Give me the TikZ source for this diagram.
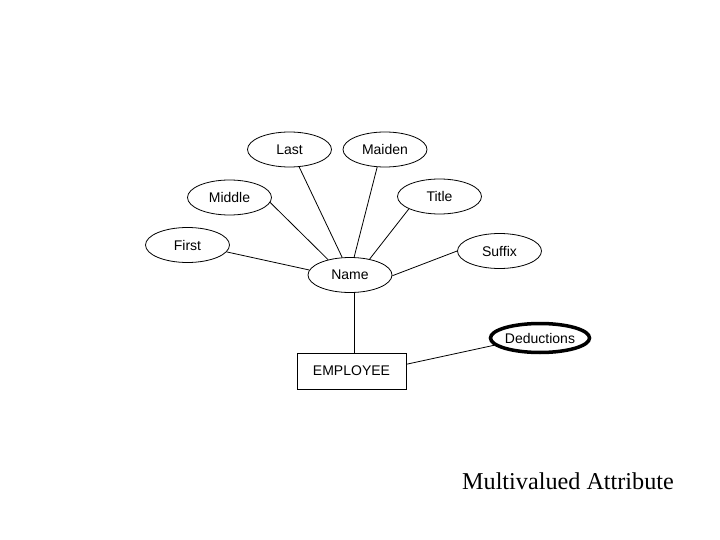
\documentclass[tikz,border=0pt]{standalone}
\usepackage{fontspec}
\setmainfont{Liberation Sans}
\newfontfamily\serifcap{Liberation Serif}
\usetikzlibrary{shapes.geometric}
\begin{document}
\begin{tikzpicture}[x=1pt,y=-1pt,
  attr/.style={draw,ellipse,line width=0.8pt,minimum width=84pt,minimum height=35pt,inner sep=0pt,font=\fontsize{14}{16}\selectfont},
  multi/.style={attr,line width=3.5pt,minimum width=82pt,minimum height=29pt},
  entity/.style={draw,rectangle,line width=0.8pt,minimum width=109pt,minimum height=36pt,inner sep=0pt,font=\fontsize{14}{16}\selectfont},
  conn/.style={line width=0.8pt}]
\useasboundingbox (0,0) rectangle (720,540);
\node[attr] (last) at (289.5,149.5) {Last};
\node[attr] (maiden) at (385,149.5) {Maiden};
\node[attr] (middle) at (229.5,197.5) {Middle};
\node[attr] (title) at (439.5,196.5) {Title};
\node[attr] (first) at (187.5,245) {First};
\node[attr] (suffix) at (499.5,251) {Suffix};
\node[attr] (name) at (350,275) {Name};
\node[multi] (ded) at (540,338) {Deductions};
\node[entity] (emp) at (351.5,371) {EMPLOYEE};
\node[font=\serifcap\fontsize{24.2}{28}\selectfont] (cap) at (568,481) {Multivalued Attribute};
\draw[conn] (last.-61) -- (name.114);
\draw[conn] (maiden.-114) -- (name.77);
\draw[conn] (middle.-7) -- (name.145);
\draw[conn] (first.-10) -- (name.173);
\draw[conn] (title.-158) -- (name.39);
\draw[conn] (suffix.180) -- (name.-1);
\draw[conn] (name.south -| 354,0) -- (emp.north -| 354,0);
\draw[conn] (emp.7) -- (ded.-171);
\end{tikzpicture}
\end{document}
